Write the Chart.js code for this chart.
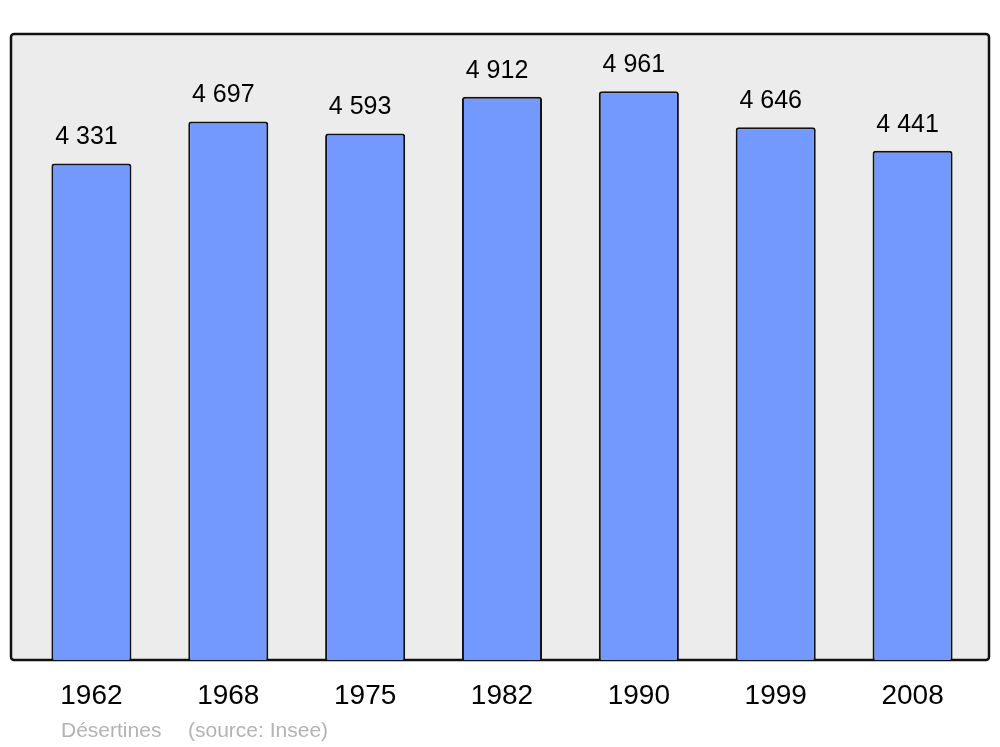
<!DOCTYPE html>
<html>
<head>
<meta charset="utf-8">
<script src="https://cdn.jsdelivr.net/npm/chart.js@4"></script>
<style>
  html, body { margin: 0; padding: 0; background: #fff; }
  #wrap { width: 1000px; height: 747px; }
</style>
</head>
<body>
<div id="wrap"><canvas id="pop"></canvas></div>
<script>
"use strict"

// population by census year
const years = ["1962", "1968", "1975", "1982", "1990", "1999", "2008"];
const population = [4331, 4697, 4593, 4912, 4961, 4646, 4441];
const commune = "Désertines";
const source = "(source: Insee)";

function fmt(n) {
  return String(n).replace(/\B(?=(\d{3})+(?!\d))/g, " ");
}

const frame = {
  id: "frame",
  beforeDraw(chart) {
    const ctx = chart.ctx;
    ctx.save();
    ctx.beginPath();
    ctx.roundRect(11, 34, 978, 626, 3);
    ctx.fillStyle = "#ececec";
    ctx.fill();
    ctx.lineWidth = 2.5;
    ctx.strokeStyle = "#111";
    ctx.stroke();
    ctx.restore();
  },
  afterDatasetsDraw(chart) {
    const ctx = chart.ctx;
    ctx.save();
    ctx.font = "25px 'Liberation Sans', Arial, sans-serif";
    ctx.fillStyle = "#000";
    ctx.textAlign = "center";
    ctx.textBaseline = "alphabetic";
    chart.getDatasetMeta(0).data.forEach((bar, i) => {
      ctx.fillText(fmt(population[i]), bar.x - 5, bar.y - 19);
    });
    // footer
    ctx.font = "21px 'Liberation Sans', Arial, sans-serif";
    ctx.fillStyle = "#b3b3b3";
    ctx.textAlign = "left";
    ctx.fillText(commune, 61, 737);
    ctx.fillText(source, 188, 737);
    ctx.restore();
  }
};

new Chart(document.getElementById("pop"), {
  type: "bar",
  data: {
    labels: years,
    datasets: [{
      data: population,
      backgroundColor: "#7399ff",
      borderColor: "#111",
      borderWidth: 2,
      borderRadius: 3,
      borderSkipped: "bottom",
      categoryPercentage: 1,
      barPercentage: 0.585
    }]
  },
  options: {
    responsive: true,
    maintainAspectRatio: false,
    animation: false,
    layout: { padding: { left: 23, right: 19, top: 34, bottom: 0 } },
    plugins: { legend: { display: false }, tooltip: { enabled: false } },
    scales: {
      x: {
        grid: { display: false, drawTicks: false },
        border: { display: false },
        ticks: {
          color: "#000",
          padding: 19,
          font: { size: 28, family: "'Liberation Sans', Arial, sans-serif" }
        },
        afterFit(scale) { scale.height = 87; }
      },
      y: {
        display: false,
        min: 0,
        max: 5460
      }
    }
  },
  plugins: [frame]
});
</script>
</body>
</html>
